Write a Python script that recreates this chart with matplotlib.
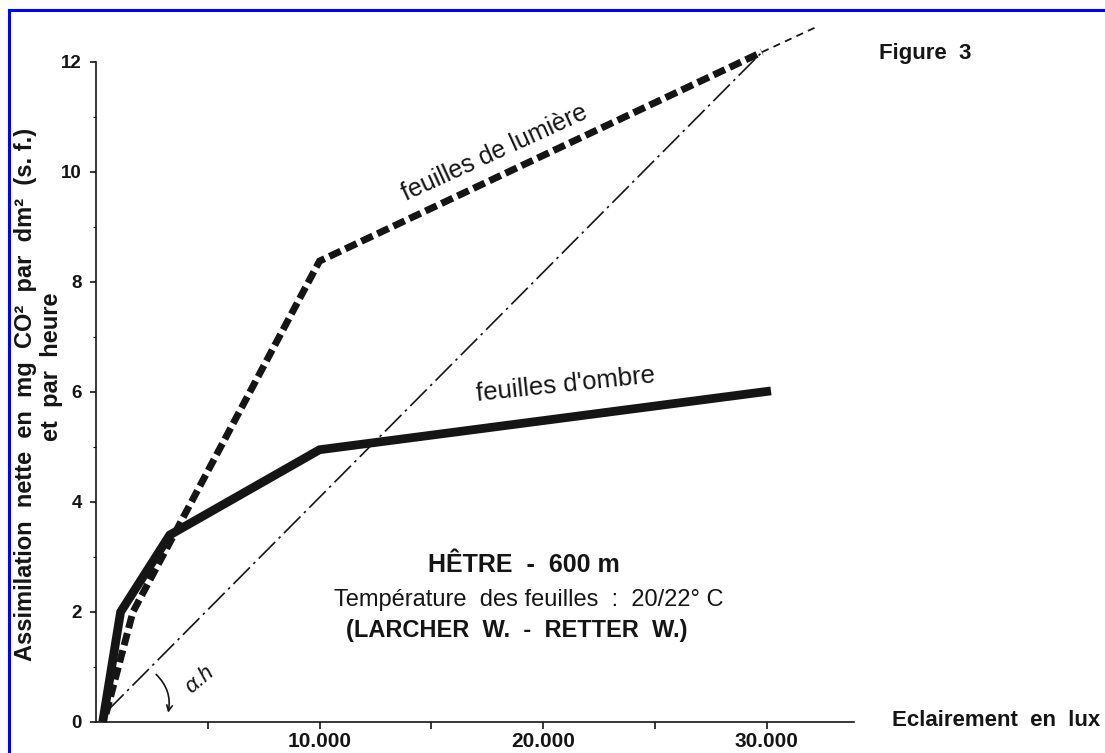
import matplotlib
matplotlib.use('Agg')
import matplotlib.pyplot as plt
from matplotlib.lines import Line2D

# ---- data (lux, mg CO2 / dm2 / h) ----
ombre_x = [300, 1100, 3300, 10000, 30200]
ombre_y = [0.0, 2.0, 3.4, 4.95, 6.02]

lumiere_x = [450, 1650, 10000, 29800]
lumiere_y = [0.15, 2.0, 8.38, 12.18]

extension_x = [29800, 32300]
extension_y = [12.18, 12.65]

alpha_x = [500, 29800]
alpha_y = [0.2, 12.18]

xtick_vals = [5000, 10000, 15000, 20000, 25000, 30000]
xtick_labels = ['', '10.000', '', '20.000', '', '30.000']
ytick_vals = [0, 2, 4, 6, 8, 10, 12]
ytick_minor = [1, 3, 5, 7, 9, 11]

# ---- figure ----
W, H = 1105, 753
plt.rcParams['font.family'] = ['Liberation Sans', 'DejaVu Sans']
INK = '#151515'

fig = plt.figure(figsize=(W / 100, H / 100), dpi=100)
fig.patch.set_facecolor('white')

px_per_lux = 223.5 / 10000
px_per_unit = 55
x0, y0 = 96, 722
xmax, ymax = 33900, 12.9
ax = fig.add_axes([x0 / W, (H - y0) / H, xmax * px_per_lux / W, ymax * px_per_unit / H])
ax.set_xlim(0, xmax)
ax.set_ylim(0, ymax)
ax.patch.set_alpha(0)

for s in ['top', 'right']:
    ax.spines[s].set_visible(False)
ax.spines['left'].set_bounds(0, 12)
ax.spines['left'].set_linewidth(1.2)
ax.spines['bottom'].set_linewidth(1.2)
ax.spines['left'].set_color(INK)
ax.spines['bottom'].set_color(INK)

ax.set_xticks(xtick_vals)
ax.set_xticklabels(xtick_labels)
ax.set_yticks(ytick_vals)
ax.set_yticks(ytick_minor, minor=True)
ax.tick_params(axis='x', direction='out', length=5, width=1.2, pad=2,
               labelsize=15, colors=INK)
ax.tick_params(axis='y', which='major', direction='out', length=4, width=1.2,
               pad=6, labelsize=13.5, colors=INK)
ax.tick_params(axis='y', which='minor', direction='out', length=2, width=0.8)
for lbl in ax.get_xticklabels() + ax.get_yticklabels():
    lbl.set_fontweight('bold')

# ---- curves ----
ax.plot(alpha_x, alpha_y, color=INK, lw=1.2, ls=(0, (14, 3, 1.5, 3)),
        clip_on=False)
ax.plot(ombre_x, ombre_y, color=INK, lw=6.3, solid_capstyle='butt',
        solid_joinstyle='miter', clip_on=False)
ax.plot(lumiere_x, lumiere_y, color=INK, lw=5.0, ls=(0, (1.8, 0.75)),
        dash_capstyle='butt', dash_joinstyle='miter', clip_on=False)
ax.plot(extension_x, extension_y, color=INK, lw=1.3, ls=(0, (4, 3)),
        clip_on=False)

# angle arrow
ax.annotate('', xy=(3200, 0.12), xytext=(2600, 0.9),
            arrowprops=dict(arrowstyle='->', connectionstyle='arc3,rad=-0.3',
                            lw=1.2, color=INK, mutation_scale=10))

def ftext(px, py, s, **kw):
    fig.text(px / W, 1 - py / H, s, color=INK, **kw)

ftext(200, 680, 'α.h', fontsize=16, rotation=40, ha='center', va='center',
      rotation_mode='anchor', style='italic')

ftext(495, 153, 'feuilles de lumière', fontsize=18, rotation=24.5,
      ha='center', va='center', rotation_mode='anchor')
ftext(566, 385, "feuilles d'ombre", fontsize=18.5, rotation=6,
      ha='center', va='center', rotation_mode='anchor')

ftext(524, 565, 'HÊTRE  -  600 m', fontsize=18, fontweight='bold',
      ha='center', va='center')
ftext(529, 600, 'Température  des feuilles  :  20/22° C', fontsize=17,
      ha='center', va='center')
ftext(517, 631, '(LARCHER  W.  -  RETTER  W.)', fontsize=17, fontweight='bold',
      ha='center', va='center')

ftext(925, 54, 'Figure  3', fontsize=16, fontweight='bold',
      ha='center', va='center')
ftext(892, 721, 'Eclairement  en  lux', fontsize=16, fontweight='bold',
      ha='left', va='center')

ftext(26, 394, 'Assimilation  nette  en  mg  CO²  par  dm²  (s. f.)',
      fontsize=17, fontweight='bold', rotation=90, ha='center', va='center')
ftext(52, 367, 'et  par  heure', fontsize=17, fontweight='bold',
      rotation=90, ha='center', va='center')

# blue frame
fig.add_artist(Line2D([9 / W, 9 / W], [0, 1 - 10 / H], transform=fig.transFigure,
                      color='#0000ff', lw=2.2))
fig.add_artist(Line2D([9 / W, 1], [1 - 10 / H, 1 - 10 / H], transform=fig.transFigure,
                      color='#0000ff', lw=2.2))

fig.savefig('out.png', dpi=100, facecolor='white')
